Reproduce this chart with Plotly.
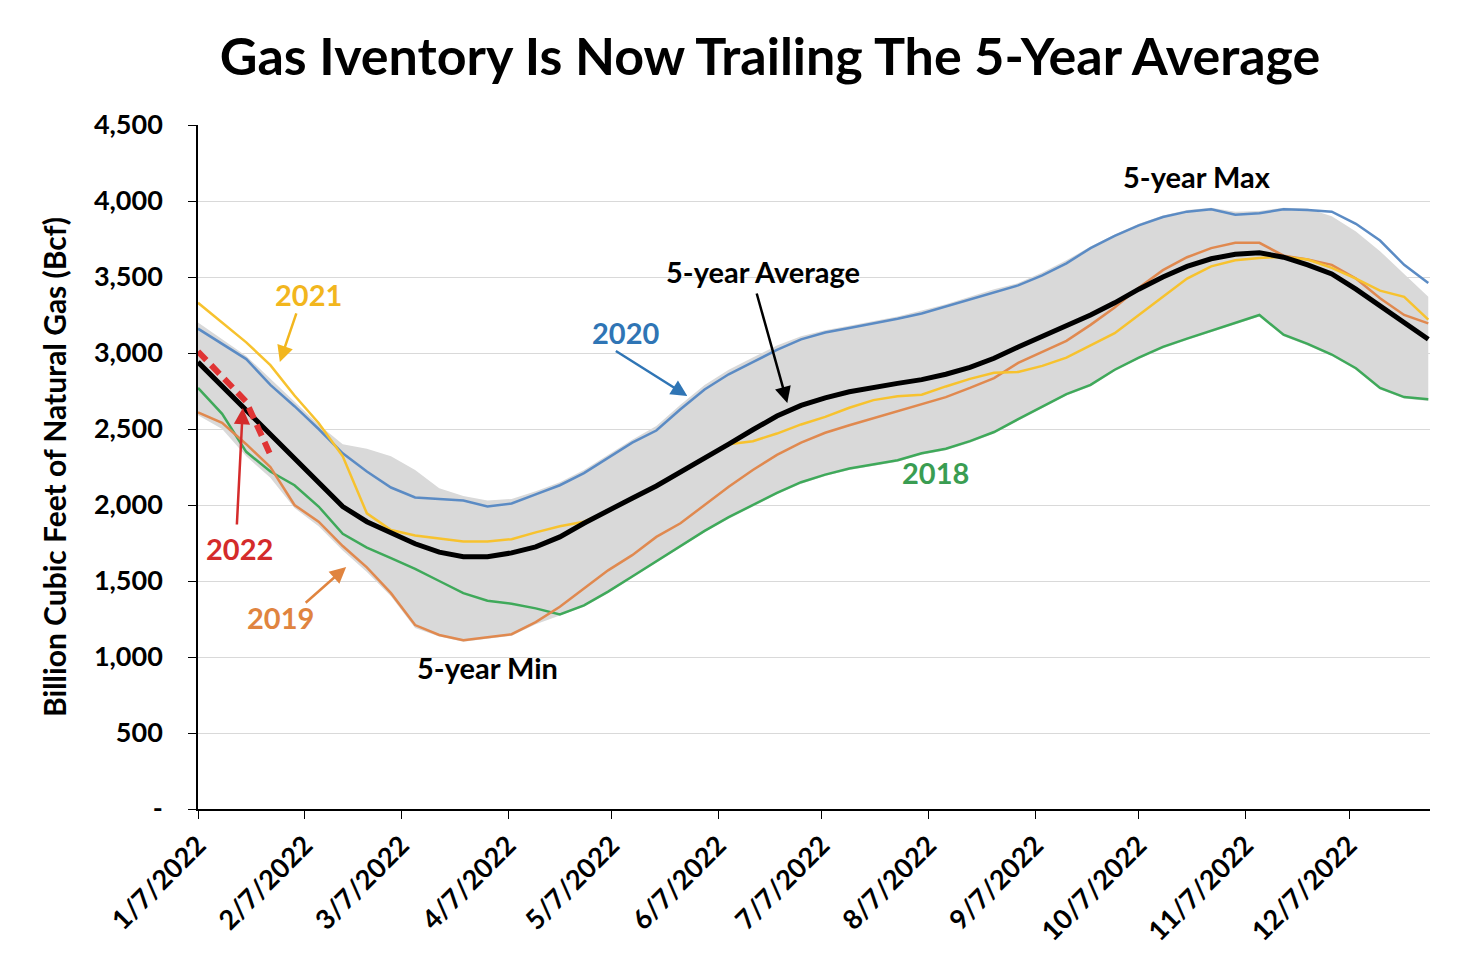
import pandas as pd
import plotly.graph_objects as go

weeks = pd.date_range("2022-01-07", periods=52, freq="7D")

avg5 = [2940, 2780, 2620, 2465, 2305, 2150, 1990, 1890, 1815, 1745, 1690, 1660, 1660, 1685, 1725, 1790, 1880, 1965, 2045, 2125,
        2215, 2310, 2400, 2495, 2585, 2655, 2705, 2745, 2775, 2800, 2825, 2860, 2905, 2965, 3040, 3110, 3180, 3250, 3330, 3420,
        3500, 3570, 3620, 3650, 3660, 3630, 3580, 3520, 3420, 3310, 3200, 3090]
y2021 = [3330, 3200, 3070, 2920, 2720, 2540, 2320, 1945, 1835, 1800, 1780, 1760, 1760, 1775, 1820, 1860, 1890, 1960, 2040, 2120,
         2215, 2310, 2400, 2420, 2470, 2530, 2580, 2640, 2690, 2715, 2725, 2780, 2830, 2870, 2875, 2915, 2970, 3050, 3130, 3250,
         3370, 3490, 3570, 3610, 3625, 3633, 3615, 3560, 3490, 3410, 3370, 3220]
y2020 = [3160, 3060, 2960, 2790, 2650, 2500, 2340, 2220, 2115, 2050, 2040, 2030, 1990, 2010, 2070, 2130, 2210, 2310, 2410, 2490,
         2630, 2760, 2860, 2940, 3020, 3090, 3135, 3165, 3195, 3225, 3260, 3305, 3350, 3400, 3445, 3510, 3590, 3690, 3770, 3840,
         3895, 3930, 3945, 3910, 3920, 3945, 3940, 3930, 3850, 3740, 3580, 3460]
y2019 = [2610, 2540, 2400, 2250, 2000, 1890, 1730, 1590, 1420, 1210, 1145, 1110, 1130, 1150, 1230, 1330, 1450, 1570, 1670, 1790,
         1880, 2000, 2120, 2230, 2330, 2410, 2475, 2525, 2570, 2615, 2665, 2710, 2770, 2835, 2935, 3010, 3080, 3185, 3300, 3430,
         3545, 3630, 3690, 3725, 3725, 3640, 3615, 3580, 3490, 3360, 3250, 3195]
y2018 = [2770, 2600, 2350, 2220, 2130, 1990, 1810, 1720, 1650, 1580, 1500, 1420, 1370, 1350, 1320, 1280, 1340, 1430, 1530, 1630,
         1730, 1830, 1920, 2000, 2080, 2150, 2200, 2240, 2270, 2295, 2340, 2370, 2420, 2480, 2565, 2650, 2730, 2790, 2890, 2970,
         3040, 3095, 3145, 3195, 3250, 3120, 3060, 2990, 2900, 2770, 2710, 2695]
max5 = [3200, 3090, 2980, 2830, 2680, 2530, 2400, 2370, 2320, 2230, 2110, 2060, 2030, 2040, 2090, 2150, 2230, 2330, 2430, 2520,
        2660, 2790, 2890, 2970, 3050, 3110, 3150, 3180, 3210, 3240, 3280, 3320, 3370, 3420, 3460, 3530, 3610, 3700, 3780, 3850,
        3905, 3940, 3955, 3930, 3935, 3955, 3950, 3900, 3800, 3670, 3520, 3370]
min5 = [2590, 2500, 2320, 2180, 1980, 1860, 1700, 1560, 1400, 1190, 1135, 1100, 1120, 1140, 1215, 1270, 1330, 1420, 1520, 1620,
        1720, 1820, 1910, 1990, 2070, 2140, 2190, 2230, 2260, 2285, 2330, 2360, 2410, 2470, 2555, 2640, 2720, 2780, 2880, 2960,
        3030, 3085, 3135, 3185, 3240, 3110, 3050, 2980, 2890, 2760, 2700, 2685]
y2022 = [3010, 2850, 2680, 2330]

x_tick_vals = pd.to_datetime(["2022-%d-07" % m for m in range(1, 13)])
x_tick_text = ["%d/7/2022" % m for m in range(1, 13)]
y_tick_vals = [0, 500, 1000, 1500, 2000, 2500, 3000, 3500, 4000, 4500]
y_tick_text = ["-", "500", "1,000", "1,500", "2,000", "2,500", "3,000", "3,500", "4,000", "4,500"]

FONT = "Lato"
C_BLUE = "#5B8BC4"
C_ORANGE = "#E0894F"
C_YELLOW = "#F7C22E"
C_GREEN = "#3FA95A"
C_RED = "#E03434"

fig = go.Figure()
fig.add_trace(go.Scatter(x=weeks, y=max5, mode="lines", line=dict(width=0, color="#D9D9D9"), showlegend=False, hoverinfo="skip"))
fig.add_trace(go.Scatter(x=weeks, y=min5, mode="lines", line=dict(width=0, color="#D9D9D9"), fill="tonexty",
                         fillcolor="#D9D9D9", showlegend=False, hoverinfo="skip"))
fig.add_trace(go.Scatter(x=weeks, y=y2018, mode="lines", line=dict(width=2.5, color=C_GREEN), name="2018"))
fig.add_trace(go.Scatter(x=weeks, y=y2019, mode="lines", line=dict(width=2.5, color=C_ORANGE), name="2019"))
fig.add_trace(go.Scatter(x=weeks, y=y2020, mode="lines", line=dict(width=2.5, color=C_BLUE), name="2020"))
fig.add_trace(go.Scatter(x=weeks, y=y2021, mode="lines", line=dict(width=2.5, color=C_YELLOW), name="2021"))
fig.add_trace(go.Scatter(x=weeks, y=avg5, mode="lines", line=dict(width=5, color="black"), name="5-year Average"))
fig.add_trace(go.Scatter(x=weeks[:len(y2022)], y=y2022, mode="lines", line=dict(width=6, color=C_RED, dash="12px,7px"), name="2022"))

def label(text, x, y, color, size=29):
    fig.add_annotation(x=x, y=y, text=text, showarrow=False, xref="x", yref="y",
                       font=dict(family=FONT, size=size, color=color, weight="bold"))

def arrow(x, y, ax, ay, color):
    fig.add_annotation(x=x, y=y, ax=ax, ay=ay, text="", showarrow=True, xref="x", yref="y",
                       arrowhead=2, arrowsize=1.3, arrowwidth=2.5, arrowcolor=color)

label("5-year Max", "2022-10-24", 4158, "black")
label("5-year Average", "2022-06-20", 3539, "black")
arrow("2022-06-27", 2671, -31, -111, "black")
label("2020", "2022-05-11", 3138, "#2F75B5")
arrow("2022-05-29", 2717, -73, -46, "#2F75B5")
label("2021", "2022-02-08", 3382, "#F2B61E")
arrow("2022-01-30 18:00", 2941, 17, -50, "#F2B61E")
label("2022", "2022-01-19", 1717, "#D42B2B")
arrow("2022-01-20", 2638, -6, 118, "#D42B2B")
label("2019", "2022-01-31", 1257, "#E0843F")
arrow("2022-02-19", 1592, -42, 37, "#E0843F")
label("2018", "2022-08-09", 2217, "#3A9D52")
label("5-year Min", "2022-04-01", 928, "black")

fig.update_layout(
    width=1482, height=966,
    margin=dict(l=198, r=52, t=125, b=157),
    paper_bgcolor="white", plot_bgcolor="white",
    showlegend=False,
    title=dict(text="Gas Iventory Is Now Trailing The 5-Year Average", x=0.5196, xanchor="center", y=0.941, yanchor="middle",
               font=dict(family=FONT, size=52, color="black", weight="bold")),
    font=dict(family=FONT, color="black"),
)
fig.update_xaxes(range=["2022-01-07", "2022-12-30 12:00"], showgrid=False, showline=True, linecolor="black", linewidth=1.5,
                 tickvals=x_tick_vals, ticktext=x_tick_text, tickangle=-45, ticks="outside", ticklen=8, tickcolor="black",
                 tickfont=dict(family=FONT, size=27, color="black", weight="bold"), zeroline=False)
fig.update_yaxes(range=[0, 4500], showgrid=True, gridcolor="#D9D9D9", gridwidth=1.2, showline=True, linecolor="black",
                 linewidth=1.5, tickvals=y_tick_vals, ticktext=y_tick_text, ticks="outside", ticklen=8, tickcolor="black",
                 ticklabelstandoff=20,
                 tickfont=dict(family=FONT, size=27, color="black", weight="bold"), zeroline=False,
                 title=dict(text="Billion Cubic Feet of Natural Gas (Bcf)", standoff=18,
                            font=dict(family=FONT, size=30, color="black", weight="bold")))

fig.write_html("out.html")
